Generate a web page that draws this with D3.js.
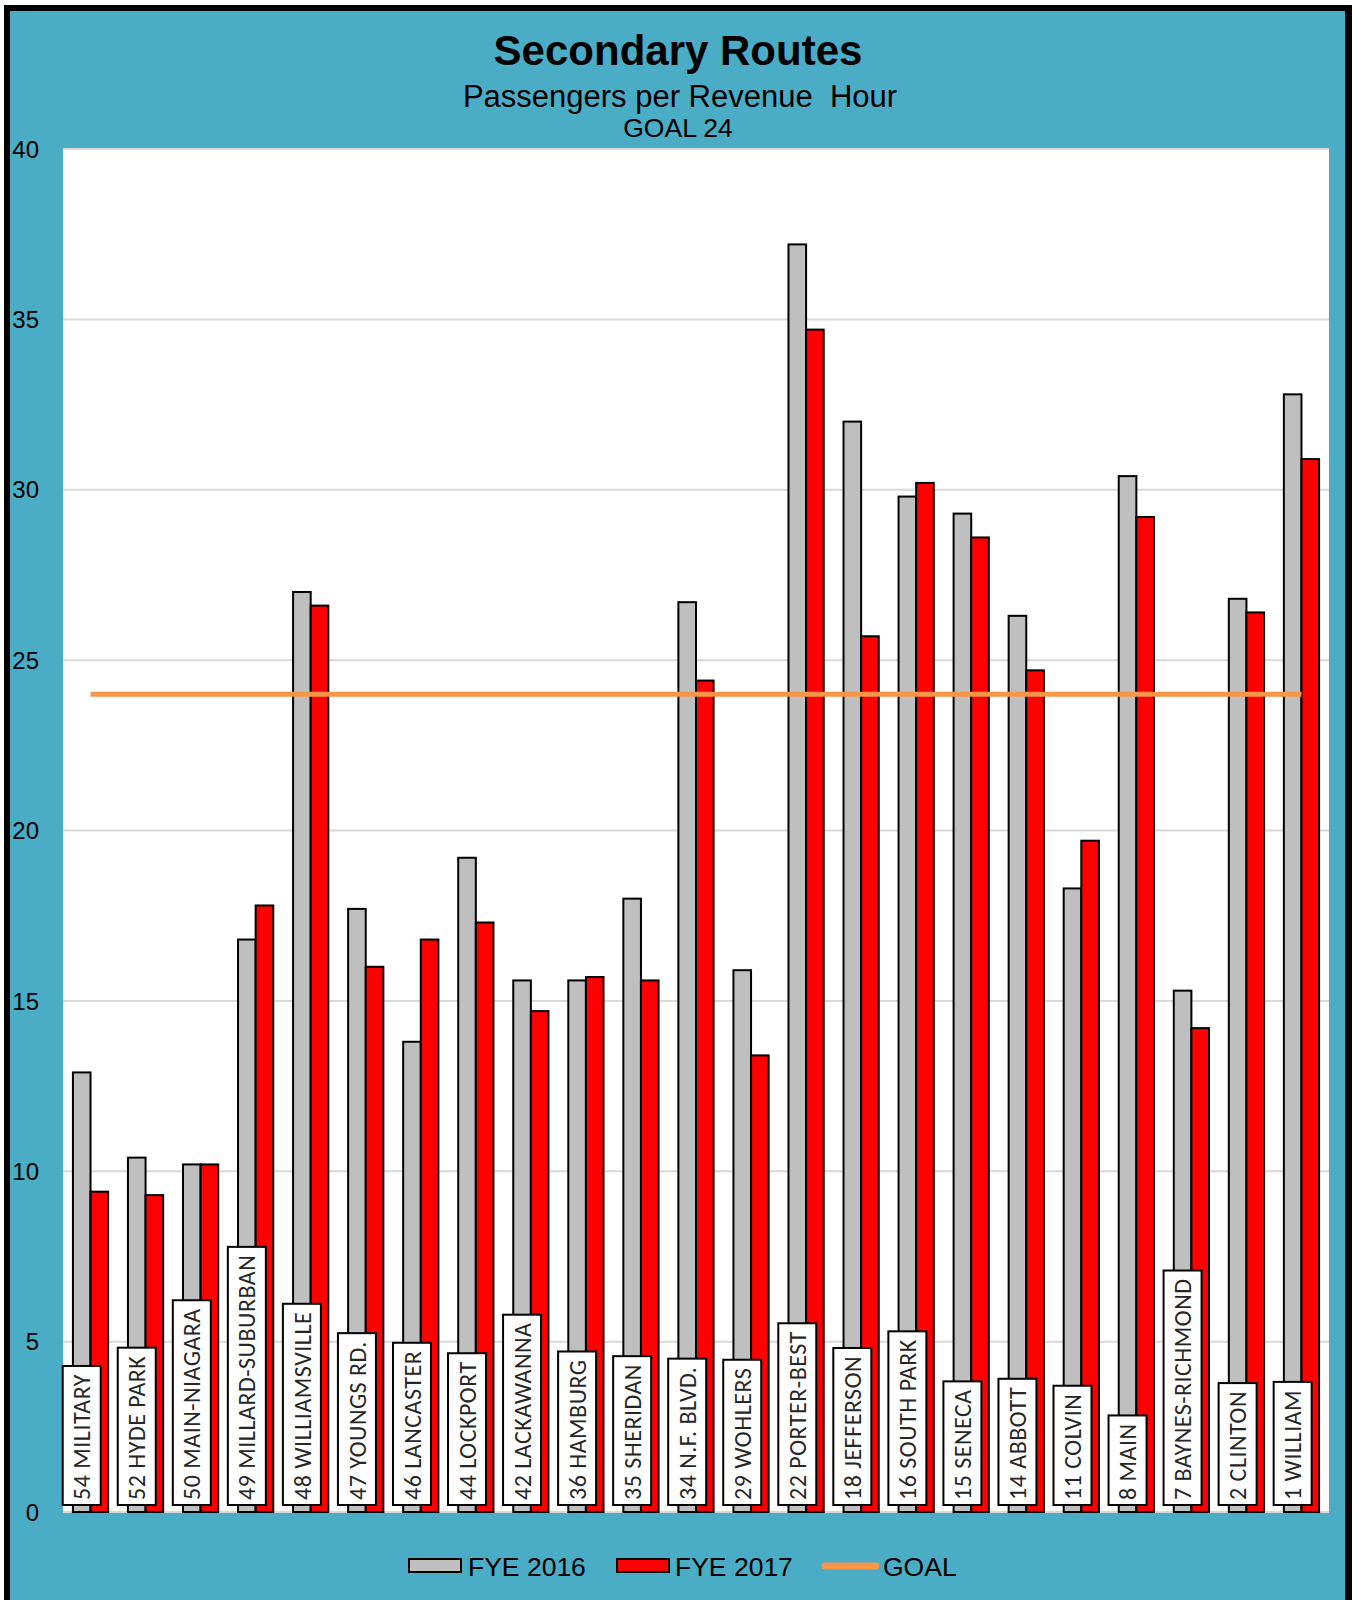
<!DOCTYPE html>
<html><head><meta charset="utf-8">
<script src="https://cdn.jsdelivr.net/npm/d3@7"></script>
<style>body{margin:0;background:#fff}svg{display:block}</style>
</head><body>
<script>
const categories = ["54 MILITARY","52 HYDE PARK","50 MAIN-NIAGARA","49 MILLARD-SUBURBAN","48 WILLIAMSVILLE","47 YOUNGS RD.","46 LANCASTER","44 LOCKPORT","42 LACKAWANNA","36 HAMBURG","35 SHERIDAN","34 N.F. BLVD.","29 WOHLERS","22 PORTER-BEST","18 JEFFERSON","16 SOUTH PARK","15 SENECA","14 ABBOTT","11 COLVIN","8 MAIN","7 BAYNES-RICHMOND","2 CLINTON","1 WILLIAM"];
const fye2016 = [12.9,10.4,10.2,16.8,27.0,17.7,13.8,19.2,15.6,15.6,18.0,26.7,15.9,37.2,32.0,29.8,29.3,26.3,18.3,30.4,15.3,26.8,32.8];
const fye2017 = [9.4,9.3,10.2,17.8,26.6,16.0,16.8,17.3,14.7,15.7,15.6,24.4,13.4,34.7,25.7,30.2,28.6,24.7,19.7,29.2,14.2,26.4,30.9];
const goalValue = 24;
const yTicks = [0,5,10,15,20,25,30,35,40];
const seriesNames = ["FYE 2016","FYE 2017","GOAL"];

const W = 1352, H = 1600;
const svg = d3.select("body").append("svg").attr("width", W).attr("height", H);

// frame
svg.append("rect").attr("x",4).attr("y",5).attr("width",W).attr("height",H).attr("fill","#000");
svg.append("rect").attr("x",10).attr("y",11).attr("width",1335).attr("height",H).attr("fill","#4bacc6");

const plot = {left:63, right:1329, top:149, bottom:1512};
svg.append("rect").attr("x",plot.left).attr("y",plot.top).attr("width",plot.right-plot.left).attr("height",plot.bottom-plot.top).attr("fill","#fff");

const x = d3.scaleBand().domain(categories).range([plot.left, plot.right]).padding(0);
const y = d3.scaleLinear().domain([0,40]).range([plot.bottom, plot.top]);
const bw = x.bandwidth()*0.32;

// gridlines
svg.append("g").selectAll("line").data(yTicks).join("line")
  .attr("x1",plot.left).attr("x2",plot.right)
  .attr("y1",d=>y(d)).attr("y2",d=>y(d))
  .attr("stroke","#d9d9d9").attr("stroke-width",2);

// y tick labels
svg.append("g").selectAll("text").data(yTicks).join("text")
  .attr("x",39).attr("y",d=>y(d)).attr("dy","0.36em")
  .attr("text-anchor","end")
  .attr("font-family","'Liberation Sans', Arial, sans-serif").attr("font-size",24)
  .attr("fill","#000").text(d=>d);

// bars
const cx = d => x(d) + x.bandwidth()/2;
svg.append("g").selectAll("rect").data(categories).join("rect")
  .attr("x",(d)=>cx(d)-bw).attr("width",bw)
  .attr("y",(d,i)=>y(fye2016[i])).attr("height",(d,i)=>y(0)-y(fye2016[i]))
  .attr("fill","#bfbfbf").attr("stroke","#000").attr("stroke-width",2);
svg.append("g").selectAll("rect").data(categories).join("rect")
  .attr("x",(d)=>cx(d)).attr("width",bw)
  .attr("y",(d,i)=>y(fye2017[i])).attr("height",(d,i)=>y(0)-y(fye2017[i]))
  .attr("fill","#ff0000").attr("stroke","#000").attr("stroke-width",2);

// goal line
svg.append("line")
  .attr("x1",cx(categories[0])).attr("x2",cx(categories[categories.length-1]))
  .attr("y1",y(goalValue)).attr("y2",y(goalValue))
  .attr("stroke","#f79646").attr("stroke-width",5);

// label boxes
const lg = svg.append("g");
categories.forEach((c,i)=>{
  const lx = cx(c) - bw/2;
  const base = y(0) - 12;
  const g = lg.append("g");
  const r = g.append("rect");
  const t = g.append("text")
    .attr("transform",`translate(${lx},${base}) rotate(-90)`)
    .attr("dy","0.36em")
    .attr("font-family","Carlito, Lato, 'Open Sans', sans-serif").attr("font-size",24)
    .attr("letter-spacing",0.5)
    .attr("fill","#262626").text(c);
  const len = t.node().getComputedTextLength();
  r.attr("x",lx-19).attr("width",38)
   .attr("y",base-len-8).attr("height",len+13)
   .attr("fill","#fff").attr("stroke","#000").attr("stroke-width",2);
});

// titles
const tf = "'Liberation Sans', Arial, sans-serif";
svg.append("text").attr("x",678).attr("y",65).attr("text-anchor","middle")
  .attr("font-family",tf).attr("font-weight","bold").attr("font-size",42).text("Secondary Routes");
svg.append("text").attr("x",680).attr("y",107).attr("text-anchor","middle").attr("xml:space","preserve")
  .attr("font-family",tf).attr("font-size",31).text("Passengers per Revenue  Hour");
svg.append("text").attr("x",678).attr("y",137).attr("text-anchor","middle")
  .attr("font-family",tf).attr("font-size",26.5).text("GOAL " + goalValue);

// legend
const leg = svg.append("g").attr("font-family",tf).attr("font-size",26.5);
leg.append("rect").attr("x",409).attr("y",1559).attr("width",52).attr("height",13).attr("fill","#bfbfbf").attr("stroke","#000").attr("stroke-width",2);
leg.append("text").attr("x",468).attr("y",1576).text(seriesNames[0]);
leg.append("rect").attr("x",617).attr("y",1559).attr("width",52).attr("height",13).attr("fill","#ff0000").attr("stroke","#000").attr("stroke-width",2);
leg.append("text").attr("x",675).attr("y",1576).text(seriesNames[1]);
leg.append("line").attr("x1",825).attr("x2",876).attr("y1",1566).attr("y2",1566).attr("stroke","#f79646").attr("stroke-width",7).attr("stroke-linecap","round");
leg.append("text").attr("x",883).attr("y",1576).text(seriesNames[2]);
</script>
</body></html>
